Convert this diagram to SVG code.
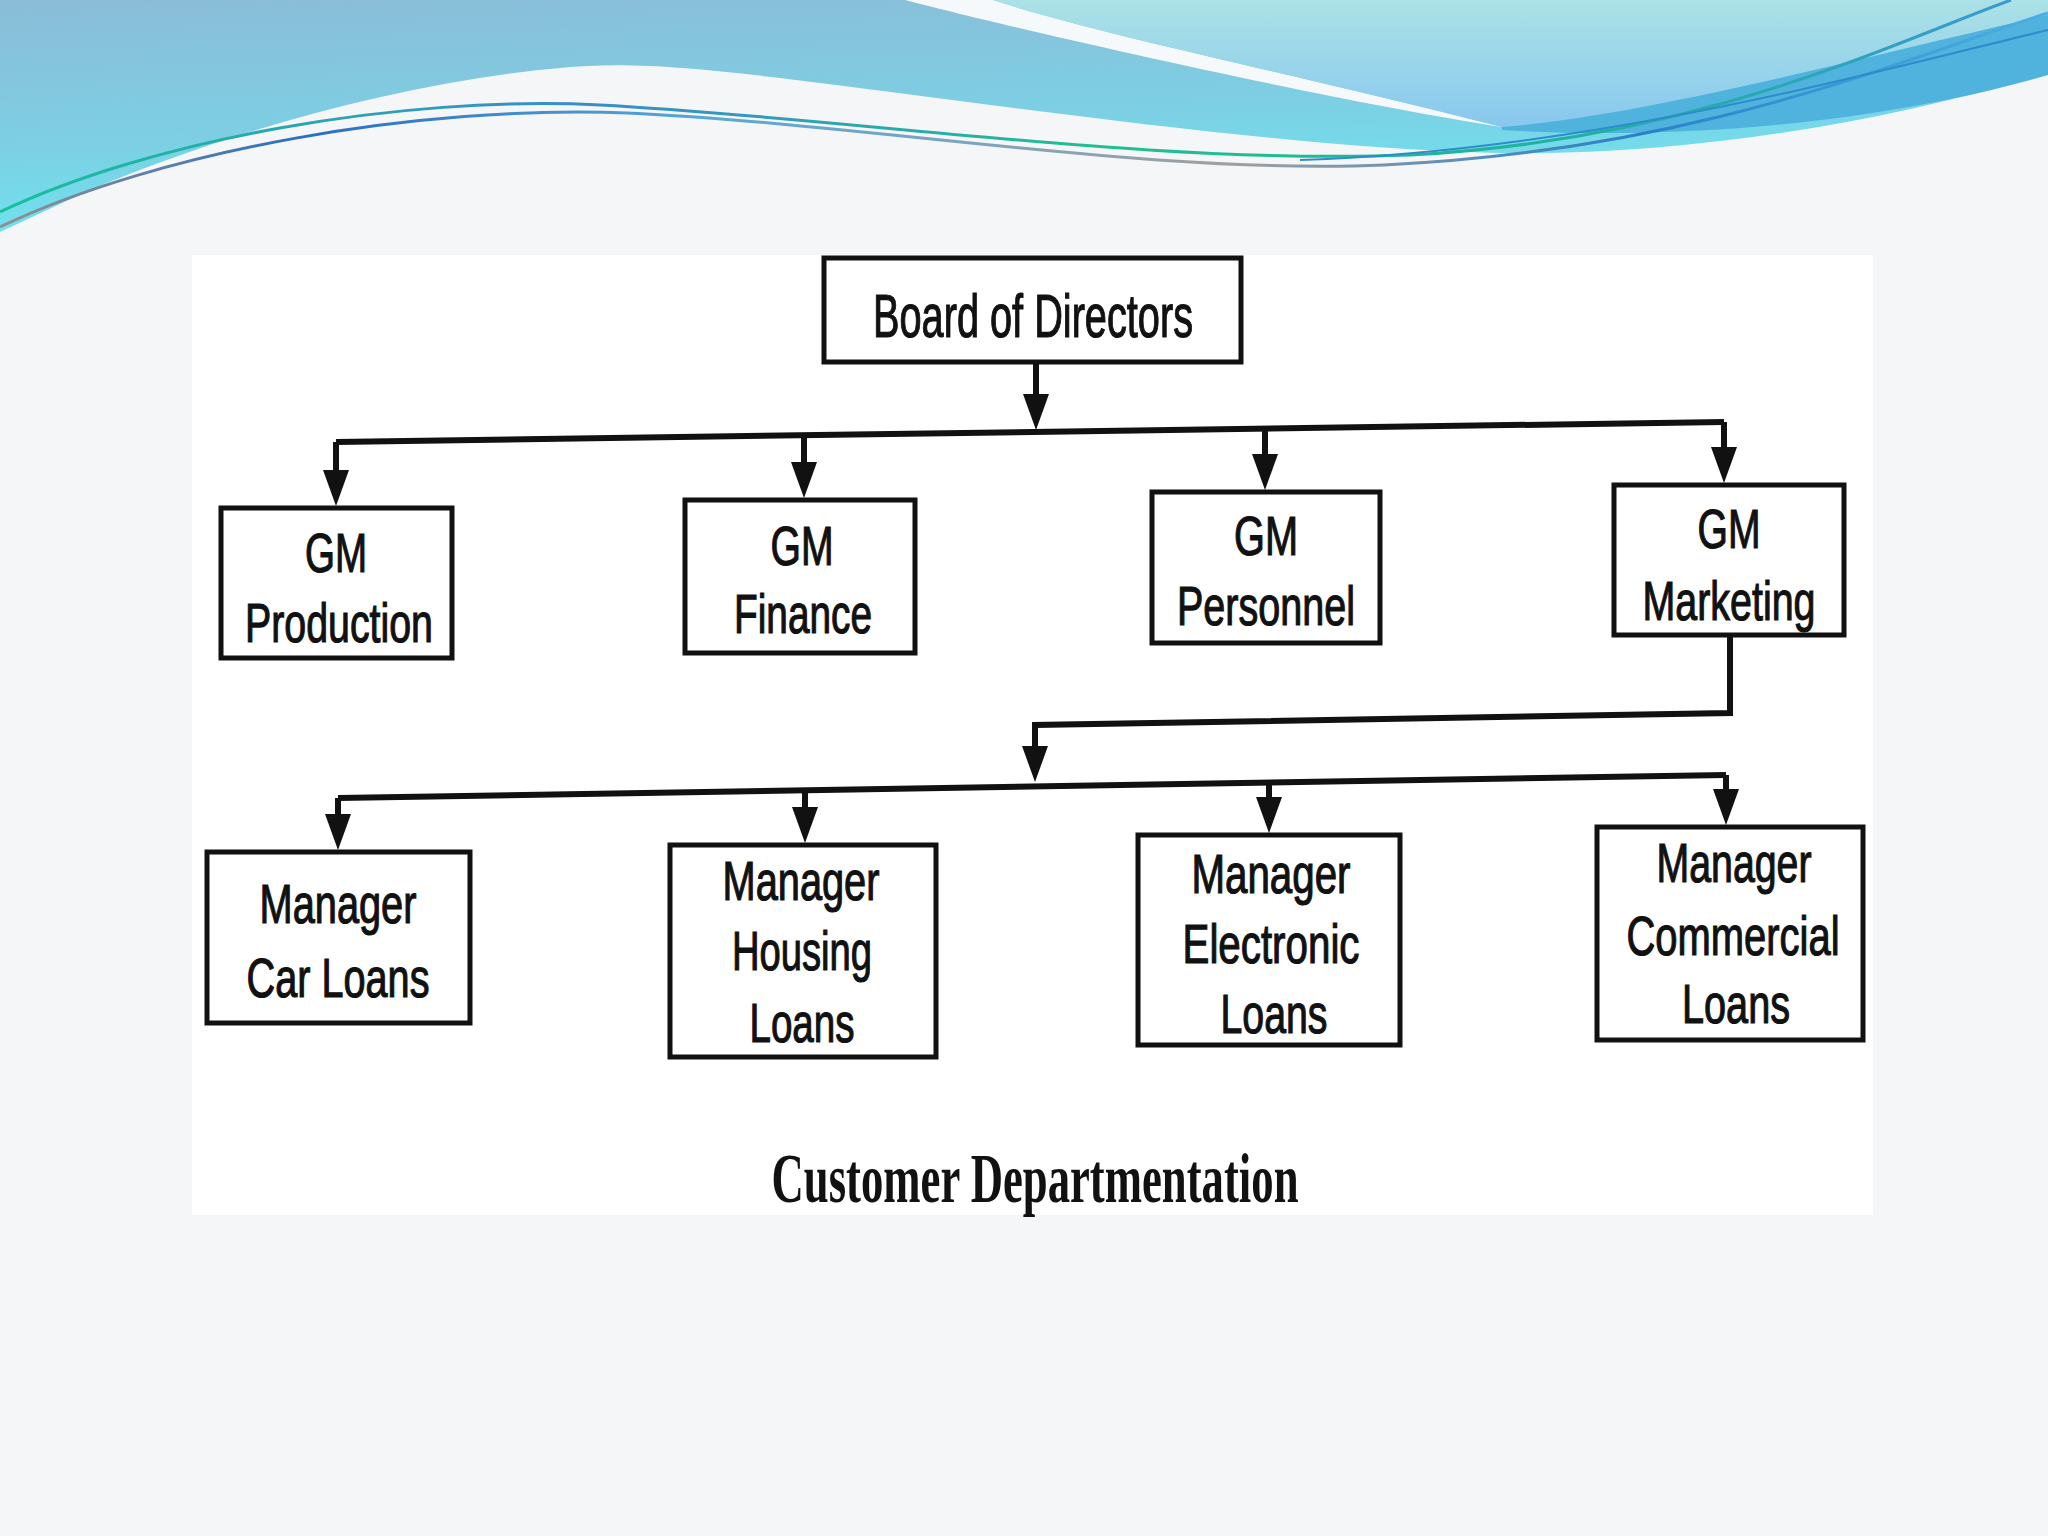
<svg xmlns="http://www.w3.org/2000/svg" width="2048" height="1536" viewBox="0 0 2048 1536">
  <defs>
    <linearGradient id="gA" x1="0" y1="0" x2="0.3" y2="1">
      <stop offset="0" stop-color="#8bbcd8"/>
      <stop offset="0.6" stop-color="#7cd0e4"/>
      <stop offset="1" stop-color="#6ce6f0"/>
    </linearGradient>
    <linearGradient id="gB" x1="0" y1="0" x2="0" y2="1">
      <stop offset="0" stop-color="#abe2e6"/>
      <stop offset="1" stop-color="#88c8ee"/>
    </linearGradient>
    <linearGradient id="gL1" x1="0" y1="0" x2="1" y2="0">
      <stop offset="0" stop-color="#18c09a"/>
      <stop offset="0.3" stop-color="#3a8cc8"/>
      <stop offset="0.55" stop-color="#20c090"/>
      <stop offset="0.8" stop-color="#20b0a0"/>
      <stop offset="1" stop-color="#3a9ad0"/>
    </linearGradient>
    <linearGradient id="gL2" x1="0" y1="0" x2="1" y2="0">
      <stop offset="0" stop-color="#909090"/>
      <stop offset="0.15" stop-color="#2a70c0"/>
      <stop offset="0.35" stop-color="#5aa8d8"/>
      <stop offset="0.6" stop-color="#a0a0a0"/>
      <stop offset="0.8" stop-color="#2a80c8"/>
      <stop offset="1" stop-color="#4ab0e0"/>
    </linearGradient>
    <marker id="arr" markerUnits="userSpaceOnUse" markerWidth="40" markerHeight="30" refX="28" refY="13" orient="auto">
      <path d="M0,0 L36,13 L0,26 Z" fill="#111"/>
    </marker>
    <style>
      .box { fill: #ffffff; stroke: #111; stroke-width: 5; }
      .lbl { font-family: "Liberation Sans", Arial, sans-serif; font-size: 56px; fill: #111; stroke: #111; stroke-width: 1.2; text-anchor: middle; }
      .big { font-size: 62px; }
      .cap { font-family: "Liberation Serif", "Times New Roman", serif; font-weight: bold; font-size: 70px; fill: #111; text-anchor: middle; }
      .con { fill: none; stroke: #111; stroke-width: 6; stroke-linejoin: miter; }
    </style>
  </defs>

  <!-- page background -->
  <rect x="0" y="0" width="2048" height="1536" fill="#f5f6f8"/>

  <!-- banner -->
  <g id="banner">
    <path d="M0,0 H2048 V73 C1900,118 1700,156 1502,153 C1300,150 1000,105 780,78 C680,66 620,62 560,68 C400,82 220,135 90,190 L0,232 Z" fill="url(#gA)"/>
    <path d="M905,0 C1000,25 1300,95 1502,127 C1300,75 1100,35 993,0 Z" fill="#f6f9fb"/>
    <path d="M993,0 H2048 V15 C1850,60 1650,115 1502,127 C1300,75 1100,35 993,0 Z" fill="url(#gB)"/>
    <path d="M1502,127 C1650,115 1850,60 2048,15 V75 C1900,118 1700,142 1502,130 Z" fill="#4fb3de"/>
    <path d="M0,212 C150,140 400,95 600,105 C850,118 1150,165 1410,155 C1700,140 1900,40 2011,0" fill="none" stroke="url(#gL1)" stroke-width="3"/>
    <path d="M0,227 C160,150 420,105 627,113 C880,125 1150,175 1384,165 C1700,150 1900,60 2048,13" fill="none" stroke="url(#gL2)" stroke-width="3"/>
    <path d="M1300,160 C1600,150 1880,70 2048,30" fill="none" stroke="#2c8ccc" stroke-width="2"/>
  </g>

  <!-- diagram image area -->
  <rect x="192" y="255" width="1681" height="960" fill="#ffffff"/>

  <g id="connectors">
    <path class="con" d="M1036,362 L1036,422" marker-end="url(#arr)"/>
    <path class="con" d="M336,442 L1724,422"/>
    <path class="con" d="M336,442 L336,498" marker-end="url(#arr)"/>
    <path class="con" d="M804,435 L804,490" marker-end="url(#arr)"/>
    <path class="con" d="M1265,429 L1265,482" marker-end="url(#arr)"/>
    <path class="con" d="M1724,422 L1724,475" marker-end="url(#arr)"/>
    <path class="con" d="M1730,635 L1730,713 L1035,725 L1035,774" marker-end="url(#arr)"/>
    <path class="con" d="M338,798 L1726,775"/>
    <path class="con" d="M338,798 L338,842" marker-end="url(#arr)"/>
    <path class="con" d="M805,790 L805,835" marker-end="url(#arr)"/>
    <path class="con" d="M1269,783 L1269,825" marker-end="url(#arr)"/>
    <path class="con" d="M1726,775 L1726,817" marker-end="url(#arr)"/>
  </g>

  <g id="board">
    <rect class="box" x="824" y="258" width="417" height="104"/>
    <text class="lbl big" x="1033" y="337" textLength="320" lengthAdjust="spacingAndGlyphs">Board of Directors</text>
  </g>

  <g id="gm-production">
    <rect class="box" x="221" y="508" width="231" height="150"/>
    <text class="lbl" x="336" y="572" textLength="62" lengthAdjust="spacingAndGlyphs">GM</text>
    <text class="lbl" x="339" y="642" textLength="188" lengthAdjust="spacingAndGlyphs">Production</text>
  </g>

  <g id="gm-finance">
    <rect class="box" x="685" y="500" width="230" height="153"/>
    <text class="lbl" x="802" y="565" textLength="63" lengthAdjust="spacingAndGlyphs">GM</text>
    <text class="lbl" x="803" y="633" textLength="138" lengthAdjust="spacingAndGlyphs">Finance</text>
  </g>

  <g id="gm-personnel">
    <rect class="box" x="1152" y="492" width="228" height="151"/>
    <text class="lbl" x="1266" y="555" textLength="64" lengthAdjust="spacingAndGlyphs">GM</text>
    <text class="lbl" x="1266" y="625" textLength="178" lengthAdjust="spacingAndGlyphs">Personnel</text>
  </g>

  <g id="gm-marketing">
    <rect class="box" x="1614" y="485" width="230" height="150"/>
    <text class="lbl" x="1729" y="548" textLength="63" lengthAdjust="spacingAndGlyphs">GM</text>
    <text class="lbl" x="1729" y="620" textLength="173" lengthAdjust="spacingAndGlyphs">Marketing</text>
  </g>

  <g id="mgr-car">
    <rect class="box" x="207" y="852" width="263" height="171"/>
    <text class="lbl" x="338" y="923" textLength="157" lengthAdjust="spacingAndGlyphs">Manager</text>
    <text class="lbl" x="338" y="997" textLength="183" lengthAdjust="spacingAndGlyphs">Car Loans</text>
  </g>

  <g id="mgr-housing">
    <rect class="box" x="670" y="845" width="266" height="212"/>
    <text class="lbl" x="801" y="900" textLength="157" lengthAdjust="spacingAndGlyphs">Manager</text>
    <text class="lbl" x="802" y="970" textLength="140" lengthAdjust="spacingAndGlyphs">Housing</text>
    <text class="lbl" x="802" y="1042" textLength="105" lengthAdjust="spacingAndGlyphs">Loans</text>
  </g>

  <g id="mgr-electronic">
    <rect class="box" x="1138" y="835" width="262" height="210"/>
    <text class="lbl" x="1271" y="893" textLength="159" lengthAdjust="spacingAndGlyphs">Manager</text>
    <text class="lbl" x="1271" y="963" textLength="177" lengthAdjust="spacingAndGlyphs">Electronic</text>
    <text class="lbl" x="1274" y="1033" textLength="107" lengthAdjust="spacingAndGlyphs">Loans</text>
  </g>

  <g id="mgr-commercial">
    <rect class="box" x="1597" y="827" width="266" height="213"/>
    <text class="lbl" x="1734" y="882" textLength="155" lengthAdjust="spacingAndGlyphs">Manager</text>
    <text class="lbl" x="1733" y="955" textLength="213" lengthAdjust="spacingAndGlyphs">Commercial</text>
    <text class="lbl" x="1736" y="1023" textLength="108" lengthAdjust="spacingAndGlyphs">Loans</text>
  </g>

  <text class="cap" x="1035" y="1202" textLength="527" lengthAdjust="spacingAndGlyphs">Customer Departmentation</text>
</svg>
